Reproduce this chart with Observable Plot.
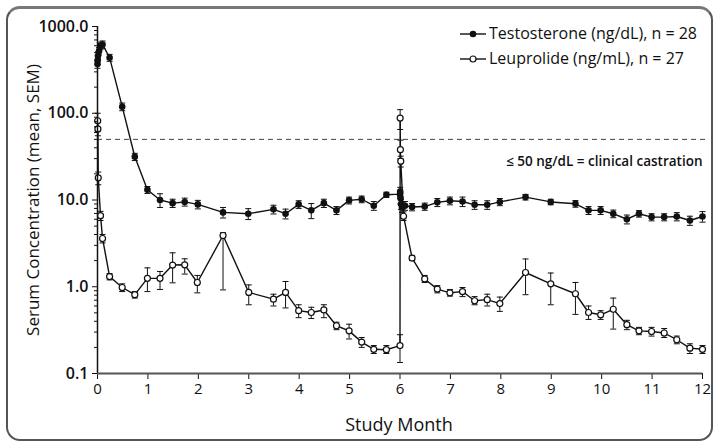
<!DOCTYPE html>
<html>
<head>
<meta charset="utf-8">
<script src="https://cdn.jsdelivr.net/npm/d3@7"></script>
<script src="https://cdn.jsdelivr.net/npm/@observablehq/plot@0.6"></script>
<style>
  html, body { margin: 0; padding: 0; background: #fff; }
  #wrap { position: relative; width: 718px; height: 444px; font-family: "Open Sans", sans-serif; color: #111; overflow: hidden; }
  #frame { position: absolute; left: 6px; top: 6px; width: 703px; height: 430px; border: 2px solid #555; border-top: 3px solid #777; border-radius: 14px; pointer-events: none; }
  #ytitle { position: absolute; left: 32px; top: 200px; transform: translate(-50%, -50%) rotate(-90deg); white-space: nowrap; font-size: 17px; }
  #xtitle { position: absolute; left: 399px; top: 424px; transform: translate(-50%, -50%); white-space: nowrap; font-size: 18px; }
  #legend { position: absolute; left: 459px; top: 21px; font-size: 16px; line-height: 25px; }
  #legend div { display: flex; align-items: center; white-space: nowrap; }
  #legend svg { margin-right: 2px; }
</style>
</head>
<body>
<div id="wrap">
  <div id="chart"></div>
  <div id="ytitle">Serum Concentration (mean, SEM)</div>
  <div id="xtitle">Study Month</div>
  <div id="legend">
    <div><svg width="28" height="12"><line x1="1" x2="27" y1="6" y2="6" stroke="#111" stroke-width="1.4"/><circle cx="14" cy="6" r="3.3" fill="#111"/></svg>Testosterone (ng/dL), n = 28</div>
    <div><svg width="28" height="12"><line x1="1" x2="27" y1="6" y2="6" stroke="#111" stroke-width="1.4"/><circle cx="14" cy="6" r="3" fill="#fff" stroke="#111" stroke-width="1.2"/></svg>Leuprolide (ng/mL), n = 27</div>
  </div>
  <div id="frame"></div>
</div>
<script>
// ---- Data ----
const testoMonths = [0, 0.005, 0.01, 0.03, 0.06, 0.1, 0.24, 0.49, 0.74, 0.99, 1.24, 1.49, 1.73, 1.99, 2.49, 2.99, 3.49, 3.73, 3.99, 4.24, 4.49, 4.74, 4.99, 5.24, 5.48, 5.73,
  6.0, 6.004, 6.01, 6.02, 6.04, 6.1, 6.24, 6.49, 6.74, 6.99, 7.24, 7.48, 7.73, 7.98, 8.49, 8.99, 9.48, 9.74, 9.98, 10.23, 10.5, 10.74, 10.99, 11.24, 11.49, 11.75, 12.0];
const testoValues = [370, 410, 460, 520, 600, 620, 437, 119, 31.5, 13.1, 10.0, 9.2, 9.5, 8.9, 7.2, 6.95, 7.8, 6.95, 8.9, 7.6, 9.2, 7.6, 9.9, 10.2, 8.6, 11.5,
  11.7, 12.5, 10.5, 9.0, 8.2, 8.6, 8.3, 8.4, 9.4, 9.8, 9.6, 8.8, 8.8, 9.5, 10.8, 9.5, 9.05, 7.6, 7.6, 6.95, 6.0, 6.95, 6.35, 6.35, 6.45, 5.8, 6.45];
const testoSEM = [40, 45, 50, 50, 60, 60, 40, 12, 3, 1.2, 1.8, 1.0, 1.0, 1.0, 1.0, 1.0, 0.9, 0.9, 0.9, 1.5, 1.0, 0.8, 0.9, 0.9, 1.0, 0.8,
  1.2, 1.5, 1.5, 1.2, 1.0, 1.0, 0.8, 0.8, 1.0, 1.0, 1.2, 1.0, 1.0, 0.9, 0.8, 0.7, 0.8, 0.8, 0.8, 0.7, 0.7, 0.6, 0.6, 0.6, 0.7, 0.7, 0.9];

const leuMonths = [0.004, 0.008, 0.015, 0.06, 0.1, 0.24, 0.49, 0.74, 0.99, 1.24, 1.49, 1.73, 1.98, 2.49, 3.0, 3.49, 3.73, 3.99, 4.24, 4.49, 4.74, 4.99, 5.24, 5.48, 5.73,
  6.0, 6.003, 6.008, 6.015, 6.07, 6.24, 6.49, 6.74, 6.99, 7.24, 7.48, 7.73, 7.98, 8.49, 8.99, 9.48, 9.74, 9.98, 10.23, 10.5, 10.74, 10.99, 11.24, 11.49, 11.75, 12.0];
const leuValues = [82, 66, 18, 6.6, 3.6, 1.31, 0.98, 0.81, 1.25, 1.25, 1.78, 1.79, 1.12, 3.9, 0.86, 0.72, 0.86, 0.53, 0.505, 0.54, 0.355, 0.31, 0.23, 0.19, 0.188,
  0.21, 88, 38, 28, 6.5, 2.14, 1.23, 0.94, 0.85, 0.88, 0.69, 0.71, 0.64, 1.46, 1.08, 0.83, 0.505, 0.475, 0.55, 0.365, 0.31, 0.305, 0.293, 0.245, 0.196, 0.19];
const leuLow = [62, 55, 15, 5.8, 3.2, 1.2, 0.88, 0.74, 0.88, 0.93, 1.11, 1.4, 0.85, 0.92, 0.62, 0.6, 0.57, 0.44, 0.43, 0.44, 0.32, 0.25, 0.2, 0.17, 0.17,
  0.134, 65, 30, 24, 5.8, 2.0, 1.12, 0.85, 0.78, 0.77, 0.62, 0.6, 0.52, 0.81, 0.62, 0.48, 0.42, 0.42, 0.325, 0.32, 0.28, 0.27, 0.26, 0.22, 0.17, 0.17];
const leuHigh = [100, 78, 21, 7.4, 4.0, 1.42, 1.08, 0.88, 1.65, 1.5, 2.46, 2.1, 1.35, 4.2, 1.05, 0.82, 1.15, 0.62, 0.58, 0.62, 0.39, 0.37, 0.26, 0.21, 0.21,
  0.28, 110, 49, 32, 7.3, 2.3, 1.35, 1.03, 0.93, 0.98, 0.77, 0.82, 0.76, 2.09, 1.44, 1.12, 0.6, 0.53, 0.74, 0.41, 0.34, 0.34, 0.33, 0.27, 0.22, 0.21];

const xTicks = [0, 1, 2, 3, 4, 5, 6, 7, 8, 9, 10, 11, 12];
const yMajorTicks = [0.1, 1, 10, 100, 1000];
const yTickLabels = ["0.1", "1.0", "10.0", "100.0", "1000.0"];
const castration = [{value: 50, month: 12, label: "\u2264 50 ng/dL = clinical castration"}];

// ---- Tables built from the arrays ----
const testo = testoMonths.map((m, i) => ({month: m, value: testoValues[i], lo: testoValues[i] - testoSEM[i], hi: testoValues[i] + testoSEM[i]}));
const leu = leuMonths.map((m, i) => ({month: m, value: leuValues[i], lo: leuLow[i], hi: leuHigh[i]}));
const yMinorTicks = yMajorTicks.slice(0, -1).flatMap(d => [2, 3, 4, 5, 6, 7, 8, 9].map(k => +(d * k).toPrecision(3)));

const cap = { draw(ctx, size) { const h = Math.sqrt(size / Math.PI); ctx.moveTo(-h, 0); ctx.lineTo(h, 0); } };

function errorMarks(data) {
  return [
    Plot.ruleX(data, {x: "month", y1: "lo", y2: "hi", stroke: "#111", strokeWidth: 1}),
    Plot.dot(data, {x: "month", y: "lo", symbol: cap, r: 3, stroke: "#111", fill: "none", strokeWidth: 1}),
    Plot.dot(data, {x: "month", y: "hi", symbol: cap, r: 3, stroke: "#111", fill: "none", strokeWidth: 1})
  ];
}

const chart = Plot.plot({
  width: 718,
  height: 444,
  marginLeft: 97,
  marginRight: 16,
  marginTop: 26,
  marginBottom: 71,
  style: {fontFamily: "Open Sans, sans-serif", fontSize: "14px", color: "#111", background: "transparent"},
  x: {domain: [0, 12]},
  y: {type: "log", domain: [0.1, 1000]},
  marks: [
    Plot.ruleY(castration, {y: "value", x1: 0, x2: 12.1, stroke: "#444", strokeWidth: 1, strokeDasharray: "5,4"}),
    Plot.text(castration, {x: "month", y: "value", text: "label", textAnchor: "end", dy: 22, fontSize: 13.5, fontWeight: 600, fill: "#111"}),
    ...errorMarks(testo),
    ...errorMarks(leu),
    Plot.line(testo, {x: "month", y: "value", stroke: "#111", strokeWidth: 1.4}),
    Plot.line(leu, {x: "month", y: "value", stroke: "#111", strokeWidth: 1.4}),
    Plot.dot(testo, {x: "month", y: "value", r: 3.3, fill: "#111", stroke: "none"}),
    Plot.dot(leu, {x: "month", y: "value", r: 3, fill: "#fff", stroke: "#111", strokeWidth: 1.2}),
    Plot.axisY({ticks: yMinorTicks, tickSize: 3, tickFormat: () => "", label: null}),
    Plot.axisY({ticks: yMajorTicks, tickSize: 5, tickPadding: 4, tickFormat: d => yTickLabels[yMajorTicks.indexOf(d)], label: null, fontSize: 16, fontWeight: 600}),
    Plot.axisX({ticks: xTicks, tickSize: 6, tickPadding: 4, label: null, fontSize: 15}),
    Plot.ruleX([0], {stroke: "#111", strokeWidth: 1.5}),
    Plot.ruleY([0.1], {stroke: "#555", strokeWidth: 2})
  ]
});
document.getElementById("chart").appendChild(chart);
</script>
</body>
</html>
